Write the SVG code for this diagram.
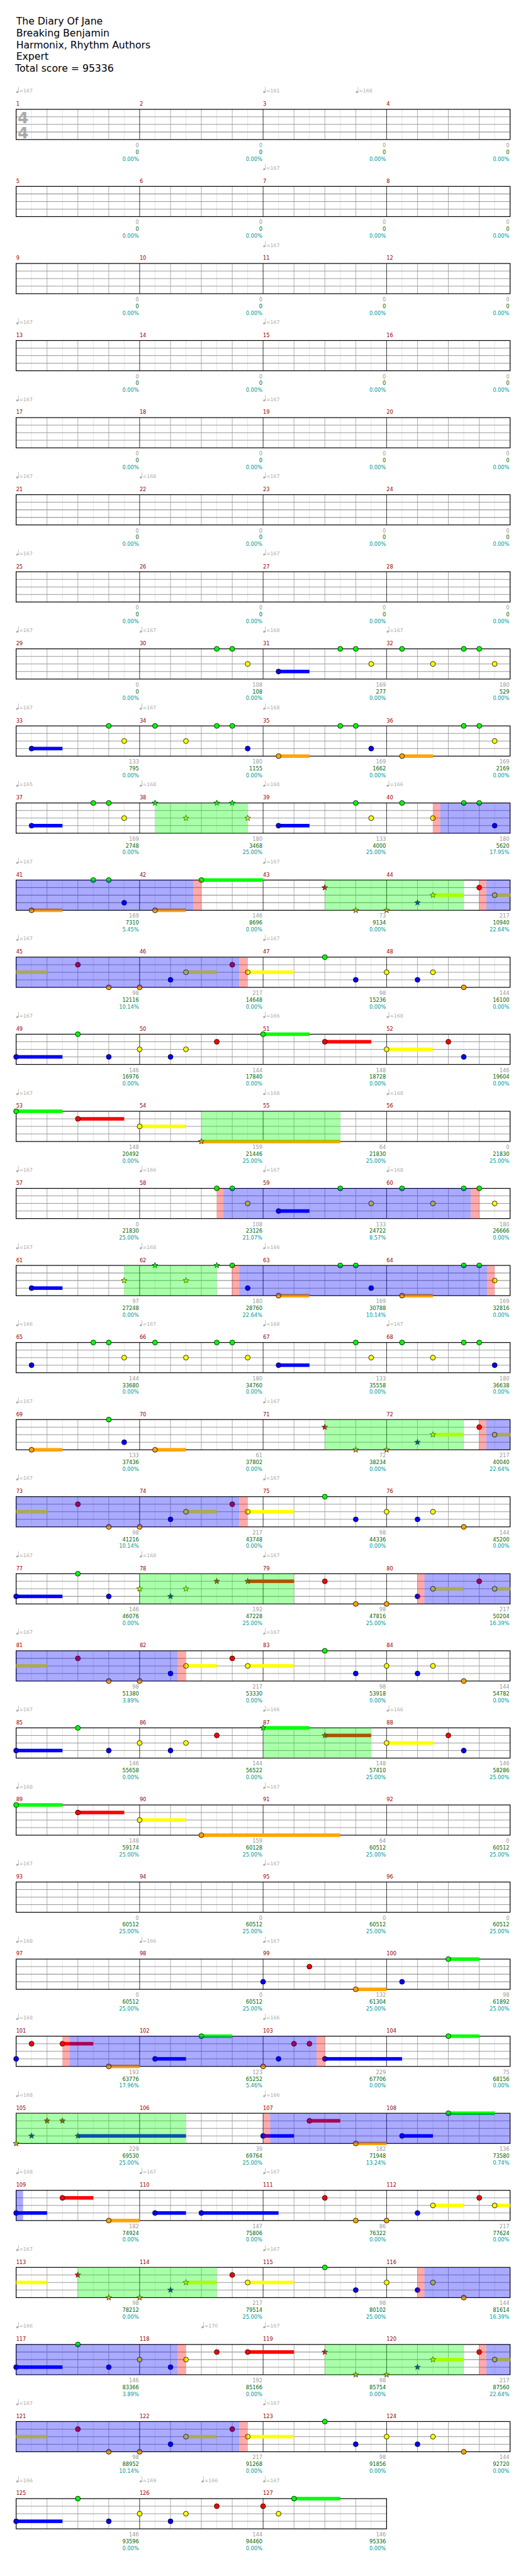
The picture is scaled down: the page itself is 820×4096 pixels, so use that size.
<svg xmlns="http://www.w3.org/2000/svg" width="820" height="4096" viewBox="0 0 820 4096">
<style>
text{font-family:"DejaVu Sans","Liberation Sans",sans-serif}
.h{font-size:19.6px;fill:#000}
.mn{font-size:10.3px;fill:#900}
.tp{font-size:9.8px;fill:#aaa}
.s1{font-size:10.3px;fill:#999;text-anchor:end}
.s2{font-size:10.3px;fill:#060;text-anchor:end}
.s3{font-size:10.3px;fill:#099;text-anchor:end}
.ts{font-size:31px;font-weight:bold;fill:#aaa}
.G{fill:#0f0}.R{fill:#f00}.Y{fill:#ff0}.B{fill:#00f}.O{fill:#ffa500}
.vg{fill:#0f0;fill-opacity:.333}.vb{fill:#00f;fill-opacity:.333}.vr{fill:#f00;fill-opacity:.333}
</style>
<defs>
<g id="g4">
<rect x="32" width="980" height="60" fill="#fff"/>
<path d="M62.6,0V60M123.9,0V60M185.1,0V60M246.4,0V60M307.6,0V60M368.9,0V60M430.1,0V60M491.4,0V60M552.6,0V60M613.9,0V60M675.1,0V60M736.4,0V60M797.6,0V60M858.9,0V60M920.1,0V60M981.4,0V60" stroke="#ddd"/>
<path d="M93.3,0V60M154.5,0V60M215.8,0V60M338.3,0V60M399.5,0V60M460.8,0V60M583.3,0V60M644.5,0V60M705.8,0V60M828.3,0V60M889.5,0V60M950.8,0V60" stroke="#999"/>
<path d="M32,15H1012M32,30H1012M32,45H1012" stroke="#999" stroke-width="1.3"/>
<path d="M277,0V60M522,0V60M767,0V60" stroke="#000"/>
<rect x="32" width="980" height="60" fill="none" stroke="#000" stroke-width="1.5"/>
</g>
<g id="g3">
<rect x="32" width="735" height="60" fill="#fff"/>
<path d="M62.6,0V60M123.9,0V60M185.1,0V60M246.4,0V60M307.6,0V60M368.9,0V60M430.1,0V60M491.4,0V60M552.6,0V60M613.9,0V60M675.1,0V60M736.4,0V60" stroke="#ddd"/>
<path d="M93.3,0V60M154.5,0V60M215.8,0V60M338.3,0V60M399.5,0V60M460.8,0V60M583.3,0V60M644.5,0V60M705.8,0V60" stroke="#999"/>
<path d="M32,15H767M32,30H767M32,45H767" stroke="#999" stroke-width="1.3"/>
<path d="M277,0V60M522,0V60" stroke="#000"/>
<rect x="32" width="735" height="60" fill="none" stroke="#000" stroke-width="1.5"/>
</g>
<circle id="c" r="4.9" stroke="#000"/>
<path id="s" d="M0,-6L1.41,-1.94L5.71,-1.85L2.28,0.74L3.53,4.85L0,2.4L-3.53,4.85L-2.28,0.74L-5.71,-1.85L-1.41,-1.94Z" stroke="#000" stroke-width=".8"/>
<g id="q" fill="#aaa"><ellipse cx="2.4" cy="-1.2" rx="2.5" ry="1.8" transform="rotate(-20 2.4 -1.2)"/><rect x="4.1" y="-11.5" width="0.9" height="10.4"/></g>
<g id="z4">
<text class="s1" y="75"><tspan x="275.5">0</tspan><tspan x="520.5">0</tspan><tspan x="765.5">0</tspan><tspan x="1010.5">0</tspan></text>
<text class="s2" y="88.5"><tspan x="275.5">0</tspan><tspan x="520.5">0</tspan><tspan x="765.5">0</tspan><tspan x="1010.5">0</tspan></text>
<text class="s3" y="102"><tspan x="275.5">0.00%</tspan><tspan x="520.5">0.00%</tspan><tspan x="765.5">0.00%</tspan><tspan x="1010.5">0.00%</tspan></text>
</g>
<g id="pA">
<rect class="Y" x="32" y="26.5" width="61.3" height="7"/><rect class="Y" x="368.9" y="26.5" width="61.2" height="7"/><rect class="Y" x="491.4" y="26.5" width="91.9" height="7"/>
<use href="#c" x="154.5" y="15" class="R"/><use href="#c" x="215.8" y="60" class="O"/><use href="#c" x="277" y="60" class="O"/><use href="#c" x="338.3" y="45" class="B"/><use href="#c" x="368.9" y="30" class="Y"/><use href="#c" x="460.8" y="15" class="R"/><use href="#c" x="491.4" y="30" class="Y"/><use href="#c" x="644.5" class="G"/><use href="#c" x="705.8" y="45" class="B"/><use href="#c" x="767" y="30" class="Y"/><use href="#c" x="828.3" y="45" class="B"/><use href="#c" x="858.9" y="30" class="Y"/><use href="#c" x="920.1" y="60" class="O"/>
</g>
<g id="pB">
<rect class="B" x="32" y="41.5" width="91.9" height="7"/>
<use href="#c" x="32" y="45" class="B"/><use href="#c" x="154.5" class="G"/><use href="#c" x="215.8" y="45" class="B"/><use href="#c" x="277" y="30" class="Y"/><use href="#c" x="338.3" y="45" class="B"/><use href="#c" x="368.9" y="30" class="Y"/><use href="#c" x="430.1" y="15" class="R"/>
</g>
</defs>
<rect width="820" height="4096" fill="#fff"/>
<g transform="scale(0.801)">
<g id="header">
<text class="h" x="32" y="49">The Diary Of Jane</text>
<text class="h" x="32" y="72.3">Breaking Benjamin</text>
<text class="h" x="32" y="95.6">Harmonix, Rhythm Authors</text>
<text class="h" x="32" y="118.9">Expert</text>
<text class="h" x="30" y="142.2">Total score = 95336</text>
</g>

<g id="row1" transform="translate(0,217)">
<use href="#g4"/>
<text class="ts" x="35" y="28">4</text><text class="ts" x="35" y="58">4</text>
<text class="mn" y="-7"><tspan x="32">1</tspan><tspan x="277">2</tspan><tspan x="522">3</tspan><tspan x="767">4</tspan></text>
<use href="#q" x="32" y="-33"/><use href="#q" x="522" y="-33"/><use href="#q" x="705.8" y="-33"/>
<text class="tp" y="-33"><tspan x="38">=167</tspan><tspan x="528">=161</tspan><tspan x="711.8">=168</tspan></text>
<use href="#z4"/>
</g>
<g id="row2" transform="translate(0,370)">
<use href="#g4"/>
<text class="mn" y="-7"><tspan x="32">5</tspan><tspan x="277">6</tspan><tspan x="522">7</tspan><tspan x="767">8</tspan></text>
<use href="#q" x="522" y="-33"/>
<text class="tp" y="-33"><tspan x="528">=167</tspan></text>
<use href="#z4"/>
</g>
<g id="row3" transform="translate(0,523)">
<use href="#g4"/>
<text class="mn" y="-7"><tspan x="32">9</tspan><tspan x="277">10</tspan><tspan x="522">11</tspan><tspan x="767">12</tspan></text>
<use href="#q" x="522" y="-33"/>
<text class="tp" y="-33"><tspan x="528">=167</tspan></text>
<use href="#z4"/>
</g>
<g id="row4" transform="translate(0,676)">
<use href="#g4"/>
<text class="mn" y="-7"><tspan x="32">13</tspan><tspan x="277">14</tspan><tspan x="522">15</tspan><tspan x="767">16</tspan></text>
<use href="#q" x="32" y="-33"/><use href="#q" x="522" y="-33"/>
<text class="tp" y="-33"><tspan x="38">=167</tspan><tspan x="528">=167</tspan></text>
<use href="#z4"/>
</g>
<g id="row5" transform="translate(0,829)">
<use href="#g4"/>
<text class="mn" y="-7"><tspan x="32">17</tspan><tspan x="277">18</tspan><tspan x="522">19</tspan><tspan x="767">20</tspan></text>
<use href="#q" x="32" y="-33"/><use href="#q" x="522" y="-33"/>
<text class="tp" y="-33"><tspan x="38">=167</tspan><tspan x="528">=167</tspan></text>
<use href="#z4"/>
</g>
<g id="row6" transform="translate(0,982)">
<use href="#g4"/>
<text class="mn" y="-7"><tspan x="32">21</tspan><tspan x="277">22</tspan><tspan x="522">23</tspan><tspan x="767">24</tspan></text>
<use href="#q" x="32" y="-33"/><use href="#q" x="277" y="-33"/><use href="#q" x="522" y="-33"/>
<text class="tp" y="-33"><tspan x="38">=167</tspan><tspan x="283">=168</tspan><tspan x="528">=167</tspan></text>
<use href="#z4"/>
</g>
<g id="row7" transform="translate(0,1135)">
<use href="#g4"/>
<text class="mn" y="-7"><tspan x="32">25</tspan><tspan x="277">26</tspan><tspan x="522">27</tspan><tspan x="767">28</tspan></text>
<use href="#q" x="32" y="-33"/><use href="#q" x="522" y="-33"/>
<text class="tp" y="-33"><tspan x="38">=167</tspan><tspan x="528">=167</tspan></text>
<use href="#z4"/>
</g>

<g id="row8" transform="translate(0,1288)">
<use href="#g4"/>
<text class="mn" y="-7"><tspan x="32">29</tspan><tspan x="277">30</tspan><tspan x="522">31</tspan><tspan x="767">32</tspan></text>
<use href="#q" x="32" y="-33"/><use href="#q" x="277" y="-33"/><use href="#q" x="522" y="-33"/><use href="#q" x="767" y="-33"/>
<text class="tp" y="-33"><tspan x="38">=167</tspan><tspan x="283">=167</tspan><tspan x="528">=168</tspan><tspan x="773">=167</tspan></text>
<rect class="B" x="552.6" y="41.5" width="61.3" height="7"/>
<use href="#c" x="430.1" class="G"/><use href="#c" x="460.8" class="G"/><use href="#c" x="491.4" y="30" class="Y"/><use href="#c" x="552.6" y="45" class="B"/><use href="#c" x="675.1" class="G"/><use href="#c" x="705.8" class="G"/><use href="#c" x="736.4" y="30" class="Y"/><use href="#c" x="797.6" class="G"/><use href="#c" x="858.9" y="30" class="Y"/><use href="#c" x="920.1" class="G"/><use href="#c" x="950.8" class="G"/><use href="#c" x="981.4" y="30" class="Y"/>
<text class="s1" y="75"><tspan x="275.5">0</tspan><tspan x="520.5">108</tspan><tspan x="765.5">169</tspan><tspan x="1010.5">180</tspan></text>
<text class="s2" y="88.5"><tspan x="275.5">0</tspan><tspan x="520.5">108</tspan><tspan x="765.5">277</tspan><tspan x="1010.5">529</tspan></text>
<text class="s3" y="102"><tspan x="275.5">0.00%</tspan><tspan x="520.5">0.00%</tspan><tspan x="765.5">0.00%</tspan><tspan x="1010.5">0.00%</tspan></text>
</g>

<g id="row9" transform="translate(0,1441)">
<use href="#g4"/>
<text class="mn" y="-7"><tspan x="32">33</tspan><tspan x="277">34</tspan><tspan x="522">35</tspan><tspan x="767">36</tspan></text>
<use href="#q" x="32" y="-33"/><use href="#q" x="277" y="-33"/><use href="#q" x="522" y="-33"/>
<text class="tp" y="-33"><tspan x="38">=167</tspan><tspan x="283">=167</tspan><tspan x="528">=168</tspan></text>
<rect class="B" x="62.6" y="41.5" width="61.3" height="7"/><rect class="O" x="552.6" y="56.5" width="61.3" height="7"/><rect class="O" x="797.6" y="56.5" width="61.3" height="7"/>
<use href="#c" x="62.6" y="45" class="B"/><use href="#c" x="215.8" class="G"/><use href="#c" x="246.4" y="30" class="Y"/><use href="#c" x="307.6" class="G"/><use href="#c" x="368.9" y="30" class="Y"/><use href="#c" x="430.1" class="G"/><use href="#c" x="460.8" class="G"/><use href="#c" x="491.4" y="45" class="B"/><use href="#c" x="552.6" y="60" class="O"/><use href="#c" x="675.1" class="G"/><use href="#c" x="705.8" class="G"/><use href="#c" x="736.4" y="45" class="B"/><use href="#c" x="797.6" y="60" class="O"/><use href="#c" x="920.1" class="G"/><use href="#c" x="950.8" class="G"/><use href="#c" x="981.4" y="30" class="Y"/>
<text class="s1" y="75"><tspan x="275.5">133</tspan><tspan x="520.5">180</tspan><tspan x="765.5">169</tspan><tspan x="1010.5">169</tspan></text>
<text class="s2" y="88.5"><tspan x="275.5">795</tspan><tspan x="520.5">1155</tspan><tspan x="765.5">1662</tspan><tspan x="1010.5">2169</tspan></text>
<text class="s3" y="102"><tspan x="275.5">0.00%</tspan><tspan x="520.5">0.00%</tspan><tspan x="765.5">0.00%</tspan><tspan x="1010.5">0.00%</tspan></text>
</g>

<g id="row10" transform="translate(0,1594)">
<use href="#g4"/>
<text class="mn" y="-7"><tspan x="32">37</tspan><tspan x="277">38</tspan><tspan x="522">39</tspan><tspan x="767">40</tspan></text>
<use href="#q" x="32" y="-33"/><use href="#q" x="277" y="-33"/><use href="#q" x="522" y="-33"/><use href="#q" x="767" y="-33"/>
<text class="tp" y="-33"><tspan x="38">=165</tspan><tspan x="283">=168</tspan><tspan x="528">=168</tspan><tspan x="773">=166</tspan></text>
<rect class="B" x="62.6" y="41.5" width="61.3" height="7"/><rect class="B" x="552.6" y="41.5" width="61.3" height="7"/>
<use href="#c" x="62.6" y="45" class="B"/><use href="#c" x="185.1" class="G"/><use href="#c" x="215.8" class="G"/><use href="#c" x="246.4" y="30" class="Y"/>
<use href="#s" x="307.6" class="G"/><use href="#s" x="368.9" y="30" class="Y"/><use href="#s" x="430.1" class="G"/><use href="#s" x="460.8" class="G"/><use href="#s" x="491.4" y="30" class="Y"/>
<use href="#c" x="552.6" y="45" class="B"/><use href="#c" x="705.8" class="G"/><use href="#c" x="736.4" y="30" class="Y"/><use href="#c" x="797.6" class="G"/><use href="#c" x="858.9" y="30" class="Y"/><use href="#c" x="920.1" class="G"/><use href="#c" x="950.8" class="G"/><use href="#c" x="981.4" y="45" class="B"/>
<rect class="vg" x="307.6" width="183.8" height="60"/><rect class="vr" x="858.9" width="14.4" height="60"/><rect class="vb" x="873.3" width="138.7" height="60"/>
<text class="s1" y="75"><tspan x="275.5">169</tspan><tspan x="520.5">180</tspan><tspan x="765.5">133</tspan><tspan x="1010.5">180</tspan></text>
<text class="s2" y="88.5"><tspan x="275.5">2748</tspan><tspan x="520.5">3468</tspan><tspan x="765.5">4000</tspan><tspan x="1010.5">5620</tspan></text>
<text class="s3" y="102"><tspan x="275.5">0.00%</tspan><tspan x="520.5">25.00%</tspan><tspan x="765.5">25.00%</tspan><tspan x="1010.5">17.95%</tspan></text>
</g>

<g id="row11" transform="translate(0,1747)">
<use href="#g4"/>
<text class="mn" y="-7"><tspan x="32">41</tspan><tspan x="277">42</tspan><tspan x="522">43</tspan><tspan x="767">44</tspan></text>
<use href="#q" x="32" y="-33"/><use href="#q" x="522" y="-33"/>
<text class="tp" y="-33"><tspan x="38">=167</tspan><tspan x="528">=167</tspan></text>
<rect class="O" x="62.6" y="56.5" width="61.3" height="7"/><rect class="O" x="307.6" y="56.5" width="61.3" height="7"/><rect class="G" x="399.5" y="-3.5" width="122.5" height="7"/><rect class="Y" x="858.9" y="26.5" width="61.2" height="7"/><rect class="Y" x="981.4" y="26.5" width="30.6" height="7"/>
<use href="#c" x="62.6" y="60" class="O"/><use href="#c" x="185.1" class="G"/><use href="#c" x="215.8" class="G"/><use href="#c" x="246.4" y="45" class="B"/><use href="#c" x="307.6" y="60" class="O"/><use href="#c" x="399.5" class="G"/>
<use href="#s" x="644.5" y="15" class="R"/><use href="#s" x="705.8" y="60" class="O"/><use href="#s" x="767" y="60" class="O"/><use href="#s" x="828.3" y="45" class="B"/><use href="#s" x="858.9" y="30" class="Y"/>
<use href="#c" x="950.8" y="15" class="R"/><use href="#c" x="981.4" y="30" class="Y"/>
<rect class="vb" x="32" width="351.3" height="60"/><rect class="vr" x="383.3" width="16.2" height="60"/><rect class="vg" x="644.5" width="275.6" height="60"/><rect class="vr" x="950.8" width="13.9" height="60"/><rect class="vb" x="964.7" width="47.3" height="60"/>
<text class="s1" y="75"><tspan x="275.5">169</tspan><tspan x="520.5">146</tspan><tspan x="765.5">73</tspan><tspan x="1010.5">217</tspan></text>
<text class="s2" y="88.5"><tspan x="275.5">7310</tspan><tspan x="520.5">8696</tspan><tspan x="765.5">9134</tspan><tspan x="1010.5">10940</tspan></text>
<text class="s3" y="102"><tspan x="275.5">5.45%</tspan><tspan x="520.5">0.00%</tspan><tspan x="765.5">0.00%</tspan><tspan x="1010.5">22.64%</tspan></text>
</g>

<g id="row12" transform="translate(0,1900)">
<use href="#g4"/>
<text class="mn" y="-7"><tspan x="32">45</tspan><tspan x="277">46</tspan><tspan x="522">47</tspan><tspan x="767">48</tspan></text>
<use href="#q" x="32" y="-33"/><use href="#q" x="522" y="-33"/>
<text class="tp" y="-33"><tspan x="38">=167</tspan><tspan x="528">=167</tspan></text>
<use href="#pA"/>
<rect class="vb" x="32" width="442.7" height="60"/><rect class="vr" x="474.7" width="16.7" height="60"/>
<text class="s1" y="75"><tspan x="275.5">98</tspan><tspan x="520.5">217</tspan><tspan x="765.5">98</tspan><tspan x="1010.5">144</tspan></text>
<text class="s2" y="88.5"><tspan x="275.5">12116</tspan><tspan x="520.5">14648</tspan><tspan x="765.5">15236</tspan><tspan x="1010.5">16100</tspan></text>
<text class="s3" y="102"><tspan x="275.5">10.14%</tspan><tspan x="520.5">0.00%</tspan><tspan x="765.5">0.00%</tspan><tspan x="1010.5">0.00%</tspan></text>
</g>

<g id="row13" transform="translate(0,2053)">
<use href="#g4"/>
<text class="mn" y="-7"><tspan x="32">49</tspan><tspan x="277">50</tspan><tspan x="522">51</tspan><tspan x="767">52</tspan></text>
<use href="#q" x="32" y="-33"/><use href="#q" x="522" y="-33"/><use href="#q" x="767" y="-33"/>
<text class="tp" y="-33"><tspan x="38">=167</tspan><tspan x="528">=166</tspan><tspan x="773">=168</tspan></text>
<use href="#pB"/>
<rect class="G" x="522" y="-3.5" width="91.9" height="7"/><rect class="R" x="644.5" y="11.5" width="91.9" height="7"/><rect class="Y" x="767" y="26.5" width="91.9" height="7"/>
<use href="#c" x="522" class="G"/><use href="#c" x="644.5" y="15" class="R"/><use href="#c" x="767" y="30" class="Y"/><use href="#c" x="889.5" y="15" class="R"/><use href="#c" x="920.1" y="45" class="B"/>
<text class="s1" y="75"><tspan x="275.5">146</tspan><tspan x="520.5">144</tspan><tspan x="765.5">148</tspan><tspan x="1010.5">146</tspan></text>
<text class="s2" y="88.5"><tspan x="275.5">16976</tspan><tspan x="520.5">17840</tspan><tspan x="765.5">18728</tspan><tspan x="1010.5">19604</tspan></text>
<text class="s3" y="102"><tspan x="275.5">0.00%</tspan><tspan x="520.5">0.00%</tspan><tspan x="765.5">0.00%</tspan><tspan x="1010.5">0.00%</tspan></text>
</g>

<g id="row14" transform="translate(0,2206)">
<use href="#g4"/>
<text class="mn" y="-7"><tspan x="32">53</tspan><tspan x="277">54</tspan><tspan x="522">55</tspan><tspan x="767">56</tspan></text>
<use href="#q" x="32" y="-33"/><use href="#q" x="522" y="-33"/><use href="#q" x="767" y="-33"/>
<text class="tp" y="-33"><tspan x="38">=167</tspan><tspan x="528">=168</tspan><tspan x="773">=168</tspan></text>
<rect class="G" x="32" y="-3.5" width="91.9" height="7"/><rect class="R" x="154.5" y="11.5" width="91.9" height="7"/><rect class="Y" x="277" y="26.5" width="91.9" height="7"/><rect class="O" x="399.5" y="56.5" width="275.6" height="7"/>
<use href="#c" x="32" class="G"/><use href="#c" x="154.5" y="15" class="R"/><use href="#c" x="277" y="30" class="Y"/><use href="#s" x="399.5" y="60" class="O"/>
<rect class="vg" x="399.5" width="275.6" height="60"/>
<text class="s1" y="75"><tspan x="275.5">148</tspan><tspan x="520.5">159</tspan><tspan x="765.5">64</tspan><tspan x="1010.5">0</tspan></text>
<text class="s2" y="88.5"><tspan x="275.5">20492</tspan><tspan x="520.5">21446</tspan><tspan x="765.5">21830</tspan><tspan x="1010.5">21830</tspan></text>
<text class="s3" y="102"><tspan x="275.5">0.00%</tspan><tspan x="520.5">25.00%</tspan><tspan x="765.5">25.00%</tspan><tspan x="1010.5">25.00%</tspan></text>
</g>

<g id="row15" transform="translate(0,2359)">
<use href="#g4"/>
<text class="mn" y="-7"><tspan x="32">57</tspan><tspan x="277">58</tspan><tspan x="522">59</tspan><tspan x="767">60</tspan></text>
<use href="#q" x="32" y="-33"/><use href="#q" x="277" y="-33"/><use href="#q" x="522" y="-33"/><use href="#q" x="767" y="-33"/>
<text class="tp" y="-33"><tspan x="38">=167</tspan><tspan x="283">=166</tspan><tspan x="528">=167</tspan><tspan x="773">=168</tspan></text>
<rect class="B" x="552.6" y="41.5" width="61.3" height="7"/>
<use href="#c" x="430.1" class="G"/><use href="#c" x="460.8" class="G"/><use href="#c" x="491.4" y="30" class="Y"/><use href="#c" x="552.6" y="45" class="B"/><use href="#c" x="675.1" class="G"/><use href="#c" x="736.4" y="30" class="Y"/><use href="#c" x="797.6" class="G"/><use href="#c" x="858.9" y="30" class="Y"/><use href="#c" x="920.1" class="G"/><use href="#c" x="950.8" class="G"/><use href="#c" x="981.4" y="30" class="Y"/>
<rect class="vr" x="430.1" width="13.2" height="60"/><rect class="vb" x="443.3" width="490.7" height="60"/><rect class="vr" x="934" width="16.8" height="60"/>
<text class="s1" y="75"><tspan x="275.5">0</tspan><tspan x="520.5">108</tspan><tspan x="765.5">133</tspan><tspan x="1010.5">180</tspan></text>
<text class="s2" y="88.5"><tspan x="275.5">21830</tspan><tspan x="520.5">23126</tspan><tspan x="765.5">24722</tspan><tspan x="1010.5">26666</tspan></text>
<text class="s3" y="102"><tspan x="275.5">25.00%</tspan><tspan x="520.5">21.07%</tspan><tspan x="765.5">8.57%</tspan><tspan x="1010.5">0.00%</tspan></text>
</g>

<g id="row16" transform="translate(0,2512)">
<use href="#g4"/>
<text class="mn" y="-7"><tspan x="32">61</tspan><tspan x="277">62</tspan><tspan x="522">63</tspan><tspan x="767">64</tspan></text>
<use href="#q" x="32" y="-33"/><use href="#q" x="277" y="-33"/><use href="#q" x="522" y="-33"/>
<text class="tp" y="-33"><tspan x="38">=167</tspan><tspan x="283">=168</tspan><tspan x="528">=166</tspan></text>
<rect class="B" x="62.6" y="41.5" width="61.3" height="7"/><rect class="O" x="552.6" y="56.5" width="61.3" height="7"/><rect class="O" x="797.6" y="56.5" width="61.3" height="7"/>
<use href="#c" x="62.6" y="45" class="B"/>
<use href="#s" x="246.4" y="30" class="Y"/><use href="#s" x="307.6" class="G"/><use href="#s" x="368.9" y="30" class="Y"/><use href="#s" x="430.1" class="G"/>
<use href="#c" x="460.8" class="G"/><use href="#c" x="491.4" y="45" class="B"/><use href="#c" x="552.6" y="60" class="O"/><use href="#c" x="675.1" class="G"/><use href="#c" x="705.8" class="G"/><use href="#c" x="736.4" y="45" class="B"/><use href="#c" x="797.6" y="60" class="O"/><use href="#c" x="920.1" class="G"/><use href="#c" x="950.8" class="G"/><use href="#c" x="981.4" y="30" class="Y"/>
<rect class="vg" x="246.4" width="183.7" height="60"/><rect class="vr" x="460" width="14.7" height="60"/><rect class="vb" x="474.7" width="492" height="60"/><rect class="vr" x="966.7" width="14.7" height="60"/>
<text class="s1" y="75"><tspan x="275.5">97</tspan><tspan x="520.5">180</tspan><tspan x="765.5">169</tspan><tspan x="1010.5">169</tspan></text>
<text class="s2" y="88.5"><tspan x="275.5">27248</tspan><tspan x="520.5">28760</tspan><tspan x="765.5">30788</tspan><tspan x="1010.5">32816</tspan></text>
<text class="s3" y="102"><tspan x="275.5">0.00%</tspan><tspan x="520.5">22.64%</tspan><tspan x="765.5">10.14%</tspan><tspan x="1010.5">0.00%</tspan></text>
</g>

<g id="row17" transform="translate(0,2665)">
<use href="#g4"/>
<text class="mn" y="-7"><tspan x="32">65</tspan><tspan x="277">66</tspan><tspan x="522">67</tspan><tspan x="767">68</tspan></text>
<use href="#q" x="32" y="-33"/><use href="#q" x="277" y="-33"/><use href="#q" x="522" y="-33"/><use href="#q" x="767" y="-33"/>
<text class="tp" y="-33"><tspan x="38">=166</tspan><tspan x="283">=167</tspan><tspan x="528">=168</tspan><tspan x="773">=167</tspan></text>
<rect class="B" x="552.6" y="41.5" width="61.3" height="7"/>
<use href="#c" x="62.6" y="45" class="B"/><use href="#c" x="185.1" class="G"/><use href="#c" x="215.8" class="G"/><use href="#c" x="246.4" y="30" class="Y"/><use href="#c" x="307.6" class="G"/><use href="#c" x="368.9" y="30" class="Y"/><use href="#c" x="430.1" class="G"/><use href="#c" x="460.8" class="G"/><use href="#c" x="491.4" y="30" class="Y"/><use href="#c" x="552.6" y="45" class="B"/><use href="#c" x="705.8" class="G"/><use href="#c" x="736.4" y="30" class="Y"/><use href="#c" x="797.6" class="G"/><use href="#c" x="858.9" y="30" class="Y"/><use href="#c" x="920.1" class="G"/><use href="#c" x="950.8" class="G"/><use href="#c" x="981.4" y="45" class="B"/>
<text class="s1" y="75"><tspan x="275.5">144</tspan><tspan x="520.5">180</tspan><tspan x="765.5">133</tspan><tspan x="1010.5">180</tspan></text>
<text class="s2" y="88.5"><tspan x="275.5">33680</tspan><tspan x="520.5">34760</tspan><tspan x="765.5">35558</tspan><tspan x="1010.5">36638</tspan></text>
<text class="s3" y="102"><tspan x="275.5">0.00%</tspan><tspan x="520.5">0.00%</tspan><tspan x="765.5">0.00%</tspan><tspan x="1010.5">0.00%</tspan></text>
</g>

<g id="row18" transform="translate(0,2818)">
<use href="#g4"/>
<text class="mn" y="-7"><tspan x="32">69</tspan><tspan x="277">70</tspan><tspan x="522">71</tspan><tspan x="767">72</tspan></text>
<use href="#q" x="32" y="-33"/><use href="#q" x="522" y="-33"/>
<text class="tp" y="-33"><tspan x="38">=167</tspan><tspan x="528">=167</tspan></text>
<rect class="O" x="62.6" y="56.5" width="61.3" height="7"/><rect class="O" x="307.6" y="56.5" width="61.3" height="7"/><rect class="Y" x="858.9" y="26.5" width="61.2" height="7"/><rect class="Y" x="981.4" y="26.5" width="30.6" height="7"/>
<use href="#c" x="62.6" y="60" class="O"/><use href="#c" x="215.8" class="G"/><use href="#c" x="246.4" y="45" class="B"/><use href="#c" x="307.6" y="60" class="O"/>
<use href="#s" x="644.5" y="15" class="R"/><use href="#s" x="705.8" y="60" class="O"/><use href="#s" x="767" y="60" class="O"/><use href="#s" x="828.3" y="45" class="B"/><use href="#s" x="858.9" y="30" class="Y"/>
<use href="#c" x="950.8" y="15" class="R"/><use href="#c" x="981.4" y="30" class="Y"/>
<rect class="vg" x="644.5" width="275.6" height="60"/><rect class="vr" x="950.8" width="13.9" height="60"/><rect class="vb" x="964.7" width="47.3" height="60"/>
<text class="s1" y="75"><tspan x="275.5">133</tspan><tspan x="520.5">61</tspan><tspan x="765.5">72</tspan><tspan x="1010.5">217</tspan></text>
<text class="s2" y="88.5"><tspan x="275.5">37436</tspan><tspan x="520.5">37802</tspan><tspan x="765.5">38234</tspan><tspan x="1010.5">40040</tspan></text>
<text class="s3" y="102"><tspan x="275.5">0.00%</tspan><tspan x="520.5">0.00%</tspan><tspan x="765.5">0.00%</tspan><tspan x="1010.5">22.64%</tspan></text>
</g>

<g id="row19" transform="translate(0,2971)">
<use href="#g4"/>
<text class="mn" y="-7"><tspan x="32">73</tspan><tspan x="277">74</tspan><tspan x="522">75</tspan><tspan x="767">76</tspan></text>
<use href="#q" x="32" y="-33"/><use href="#q" x="522" y="-33"/>
<text class="tp" y="-33"><tspan x="38">=167</tspan><tspan x="528">=167</tspan></text>
<use href="#pA"/>
<rect class="vb" x="32" width="442.7" height="60"/><rect class="vr" x="474.7" width="16.7" height="60"/>
<text class="s1" y="75"><tspan x="275.5">98</tspan><tspan x="520.5">217</tspan><tspan x="765.5">98</tspan><tspan x="1010.5">144</tspan></text>
<text class="s2" y="88.5"><tspan x="275.5">41216</tspan><tspan x="520.5">43748</tspan><tspan x="765.5">44336</tspan><tspan x="1010.5">45200</tspan></text>
<text class="s3" y="102"><tspan x="275.5">10.14%</tspan><tspan x="520.5">0.00%</tspan><tspan x="765.5">0.00%</tspan><tspan x="1010.5">0.00%</tspan></text>
</g>

<g id="row20" transform="translate(0,3124)">
<use href="#g4"/>
<text class="mn" y="-7"><tspan x="32">77</tspan><tspan x="277">78</tspan><tspan x="522">79</tspan><tspan x="767">80</tspan></text>
<use href="#q" x="32" y="-33"/><use href="#q" x="277" y="-33"/><use href="#q" x="522" y="-33"/>
<text class="tp" y="-33"><tspan x="38">=167</tspan><tspan x="283">=168</tspan><tspan x="528">=167</tspan></text>
<rect class="B" x="32" y="41.5" width="91.9" height="7"/><rect class="R" x="491.4" y="11.5" width="91.9" height="7"/><rect class="Y" x="858.9" y="26.5" width="61.2" height="7"/><rect class="Y" x="981.4" y="26.5" width="30.6" height="7"/>
<use href="#c" x="32" y="45" class="B"/><use href="#c" x="154.5" class="G"/><use href="#c" x="215.8" y="45" class="B"/>
<use href="#s" x="277" y="30" class="Y"/><use href="#s" x="338.3" y="45" class="B"/><use href="#s" x="368.9" y="30" class="Y"/><use href="#s" x="430.1" y="15" class="R"/><use href="#s" x="491.4" y="15" class="R"/>
<use href="#c" x="644.5" y="15" class="R"/><use href="#c" x="705.8" y="60" class="O"/><use href="#c" x="767" y="60" class="O"/><use href="#c" x="828.3" y="45" class="B"/><use href="#c" x="858.9" y="30" class="Y"/><use href="#c" x="950.8" y="15" class="R"/><use href="#c" x="981.4" y="30" class="Y"/>
<rect class="vg" x="277" width="306.3" height="60"/><rect class="vr" x="828.3" width="13.7" height="60"/><rect class="vb" x="842" width="170" height="60"/>
<text class="s1" y="75"><tspan x="275.5">146</tspan><tspan x="520.5">192</tspan><tspan x="765.5">98</tspan><tspan x="1010.5">217</tspan></text>
<text class="s2" y="88.5"><tspan x="275.5">46076</tspan><tspan x="520.5">47228</tspan><tspan x="765.5">47816</tspan><tspan x="1010.5">50204</tspan></text>
<text class="s3" y="102"><tspan x="275.5">0.00%</tspan><tspan x="520.5">25.00%</tspan><tspan x="765.5">25.00%</tspan><tspan x="1010.5">16.39%</tspan></text>
</g>

<g id="row21" transform="translate(0,3277)">
<use href="#g4"/>
<text class="mn" y="-7"><tspan x="32">81</tspan><tspan x="277">82</tspan><tspan x="522">83</tspan><tspan x="767">84</tspan></text>
<use href="#q" x="32" y="-33"/><use href="#q" x="522" y="-33"/>
<text class="tp" y="-33"><tspan x="38">=167</tspan><tspan x="528">=167</tspan></text>
<use href="#pA"/>
<rect class="vb" x="32" width="320" height="60"/><rect class="vr" x="352" width="16.9" height="60"/>
<text class="s1" y="75"><tspan x="275.5">98</tspan><tspan x="520.5">217</tspan><tspan x="765.5">98</tspan><tspan x="1010.5">144</tspan></text>
<text class="s2" y="88.5"><tspan x="275.5">51380</tspan><tspan x="520.5">53330</tspan><tspan x="765.5">53918</tspan><tspan x="1010.5">54782</tspan></text>
<text class="s3" y="102"><tspan x="275.5">3.89%</tspan><tspan x="520.5">0.00%</tspan><tspan x="765.5">0.00%</tspan><tspan x="1010.5">0.00%</tspan></text>
</g>

<g id="row22" transform="translate(0,3430)">
<use href="#g4"/>
<text class="mn" y="-7"><tspan x="32">85</tspan><tspan x="277">86</tspan><tspan x="522">87</tspan><tspan x="767">88</tspan></text>
<use href="#q" x="32" y="-33"/><use href="#q" x="522" y="-33"/><use href="#q" x="767" y="-33"/>
<text class="tp" y="-33"><tspan x="38">=167</tspan><tspan x="528">=166</tspan><tspan x="773">=166</tspan></text>
<use href="#pB"/>
<rect class="G" x="522" y="-3.5" width="91.9" height="7"/><rect class="R" x="644.5" y="11.5" width="91.9" height="7"/><rect class="Y" x="767" y="26.5" width="91.9" height="7"/>
<use href="#s" x="522" class="G"/><use href="#s" x="644.5" y="15" class="R"/><use href="#c" x="767" y="30" class="Y"/><use href="#c" x="889.5" y="15" class="R"/><use href="#c" x="920.1" y="45" class="B"/>
<rect class="vg" x="522" width="214.4" height="60"/>
<text class="s1" y="75"><tspan x="275.5">146</tspan><tspan x="520.5">144</tspan><tspan x="765.5">148</tspan><tspan x="1010.5">146</tspan></text>
<text class="s2" y="88.5"><tspan x="275.5">55658</tspan><tspan x="520.5">56522</tspan><tspan x="765.5">57410</tspan><tspan x="1010.5">58286</tspan></text>
<text class="s3" y="102"><tspan x="275.5">0.00%</tspan><tspan x="520.5">0.00%</tspan><tspan x="765.5">25.00%</tspan><tspan x="1010.5">25.00%</tspan></text>
</g>

<g id="row23" transform="translate(0,3583)">
<use href="#g4"/>
<text class="mn" y="-7"><tspan x="32">89</tspan><tspan x="277">90</tspan><tspan x="522">91</tspan><tspan x="767">92</tspan></text>
<use href="#q" x="32" y="-33"/><use href="#q" x="522" y="-33"/>
<text class="tp" y="-33"><tspan x="38">=168</tspan><tspan x="528">=167</tspan></text>
<rect class="G" x="32" y="-3.5" width="91.9" height="7"/><rect class="R" x="154.5" y="11.5" width="91.9" height="7"/><rect class="Y" x="277" y="26.5" width="91.9" height="7"/><rect class="O" x="399.5" y="56.5" width="275.6" height="7"/>
<use href="#c" x="32" class="G"/><use href="#c" x="154.5" y="15" class="R"/><use href="#c" x="277" y="30" class="Y"/><use href="#c" x="399.5" y="60" class="O"/>
<text class="s1" y="75"><tspan x="275.5">148</tspan><tspan x="520.5">159</tspan><tspan x="765.5">64</tspan><tspan x="1010.5">0</tspan></text>
<text class="s2" y="88.5"><tspan x="275.5">59174</tspan><tspan x="520.5">60128</tspan><tspan x="765.5">60512</tspan><tspan x="1010.5">60512</tspan></text>
<text class="s3" y="102"><tspan x="275.5">25.00%</tspan><tspan x="520.5">25.00%</tspan><tspan x="765.5">25.00%</tspan><tspan x="1010.5">25.00%</tspan></text>
</g>

<g id="row24" transform="translate(0,3736)">
<use href="#g4"/>
<text class="mn" y="-7"><tspan x="32">93</tspan><tspan x="277">94</tspan><tspan x="522">95</tspan><tspan x="767">96</tspan></text>
<use href="#q" x="32" y="-33"/><use href="#q" x="522" y="-33"/>
<text class="tp" y="-33"><tspan x="38">=167</tspan><tspan x="528">=167</tspan></text>
<text class="s1" y="75"><tspan x="275.5">0</tspan><tspan x="520.5">0</tspan><tspan x="765.5">0</tspan><tspan x="1010.5">0</tspan></text>
<text class="s2" y="88.5"><tspan x="275.5">60512</tspan><tspan x="520.5">60512</tspan><tspan x="765.5">60512</tspan><tspan x="1010.5">60512</tspan></text>
<text class="s3" y="102"><tspan x="275.5">25.00%</tspan><tspan x="520.5">25.00%</tspan><tspan x="765.5">25.00%</tspan><tspan x="1010.5">25.00%</tspan></text>
</g>

<g id="row25" transform="translate(0,3889)">
<use href="#g4"/>
<text class="mn" y="-7"><tspan x="32">97</tspan><tspan x="277">98</tspan><tspan x="522">99</tspan><tspan x="767">100</tspan></text>
<use href="#q" x="32" y="-33"/><use href="#q" x="277" y="-33"/><use href="#q" x="522" y="-33"/>
<text class="tp" y="-33"><tspan x="38">=168</tspan><tspan x="283">=166</tspan><tspan x="528">=167</tspan></text>
<rect class="O" x="705.8" y="56.5" width="61.2" height="7"/><rect class="G" x="889.5" y="-3.5" width="61.3" height="7"/>
<use href="#c" x="522" y="45" class="B"/><use href="#c" x="613.9" y="15" class="R"/><use href="#c" x="705.8" y="60" class="O"/><use href="#c" x="797.6" y="45" class="B"/><use href="#c" x="889.5" class="G"/>
<text class="s1" y="75"><tspan x="275.5">0</tspan><tspan x="520.5">0</tspan><tspan x="765.5">132</tspan><tspan x="1010.5">98</tspan></text>
<text class="s2" y="88.5"><tspan x="275.5">60512</tspan><tspan x="520.5">60512</tspan><tspan x="765.5">61304</tspan><tspan x="1010.5">61892</tspan></text>
<text class="s3" y="102"><tspan x="275.5">25.00%</tspan><tspan x="520.5">25.00%</tspan><tspan x="765.5">25.00%</tspan><tspan x="1010.5">25.00%</tspan></text>
</g>

<g id="row26" transform="translate(0,4042)">
<use href="#g4"/>
<text class="mn" y="-7"><tspan x="32">101</tspan><tspan x="277">102</tspan><tspan x="522">103</tspan><tspan x="767">104</tspan></text>
<use href="#q" x="32" y="-33"/><use href="#q" x="522" y="-33"/>
<text class="tp" y="-33"><tspan x="38">=168</tspan><tspan x="528">=166</tspan></text>
<rect class="R" x="123.9" y="11.5" width="61.2" height="7"/><rect class="O" x="215.8" y="56.5" width="61.2" height="7"/><rect class="B" x="307.6" y="41.5" width="61.3" height="7"/><rect class="G" x="399.5" y="-3.5" width="61.3" height="7"/><rect class="B" x="644.5" y="41.5" width="153.1" height="7"/><rect class="G" x="889.5" y="-3.5" width="61.3" height="7"/>
<use href="#c" x="32" y="45" class="B"/><use href="#c" x="62.6" y="15" class="R"/><use href="#c" x="123.9" y="15" class="R"/><use href="#c" x="215.8" y="60" class="O"/><use href="#c" x="307.6" y="45" class="B"/><use href="#c" x="399.5" class="G"/><use href="#c" x="522" y="60" class="O"/><use href="#c" x="552.6" y="45" class="B"/><use href="#c" x="583.3" y="15" class="R"/><use href="#c" x="613.9" y="15" class="R"/><use href="#c" x="644.5" y="45" class="B"/><use href="#c" x="889.5" class="G"/>
<rect class="vr" x="124" width="14" height="60"/><rect class="vb" x="138" width="490" height="60"/><rect class="vr" x="628" width="16.5" height="60"/>
<text class="s1" y="75"><tspan x="275.5">193</tspan><tspan x="520.5">123</tspan><tspan x="765.5">229</tspan><tspan x="1010.5">75</tspan></text>
<text class="s2" y="88.5"><tspan x="275.5">63776</tspan><tspan x="520.5">65252</tspan><tspan x="765.5">67706</tspan><tspan x="1010.5">68156</tspan></text>
<text class="s3" y="102"><tspan x="275.5">17.96%</tspan><tspan x="520.5">5.46%</tspan><tspan x="765.5">0.00%</tspan><tspan x="1010.5">0.00%</tspan></text>
</g>

<g id="row27" transform="translate(0,4195)">
<use href="#g4"/>
<text class="mn" y="-7"><tspan x="32">105</tspan><tspan x="277">106</tspan><tspan x="522">107</tspan><tspan x="767">108</tspan></text>
<use href="#q" x="32" y="-33"/><use href="#q" x="522" y="-33"/>
<text class="tp" y="-33"><tspan x="38">=168</tspan><tspan x="528">=166</tspan></text>
<rect class="B" x="154.5" y="41.5" width="214.4" height="7"/><rect class="B" x="522" y="41.5" width="61.3" height="7"/><rect class="R" x="613.9" y="11.5" width="61.2" height="7"/><rect class="O" x="705.8" y="56.5" width="61.2" height="7"/><rect class="B" x="797.6" y="41.5" width="61.3" height="7"/><rect class="G" x="889.5" y="-3.5" width="91.9" height="7"/>
<use href="#s" x="32" y="60" class="O"/><use href="#s" x="62.6" y="45" class="B"/><use href="#s" x="93.3" y="15" class="R"/><use href="#s" x="123.9" y="15" class="R"/><use href="#s" x="154.5" y="45" class="B"/>
<use href="#c" x="522" y="45" class="B"/><use href="#c" x="613.9" y="15" class="R"/><use href="#c" x="705.8" y="60" class="O"/><use href="#c" x="797.6" y="45" class="B"/><use href="#c" x="889.5" class="G"/>
<rect class="vg" x="32" width="336.9" height="60"/><rect class="vr" x="522" width="14" height="60"/><rect class="vb" x="536" width="476" height="60"/>
<text class="s1" y="75"><tspan x="275.5">229</tspan><tspan x="520.5">39</tspan><tspan x="765.5">182</tspan><tspan x="1010.5">136</tspan></text>
<text class="s2" y="88.5"><tspan x="275.5">69530</tspan><tspan x="520.5">69764</tspan><tspan x="765.5">71948</tspan><tspan x="1010.5">73580</tspan></text>
<text class="s3" y="102"><tspan x="275.5">25.00%</tspan><tspan x="520.5">25.00%</tspan><tspan x="765.5">13.24%</tspan><tspan x="1010.5">0.74%</tspan></text>
</g>

<g id="row28" transform="translate(0,4348)">
<use href="#g4"/>
<text class="mn" y="-7"><tspan x="32">109</tspan><tspan x="277">110</tspan><tspan x="522">111</tspan><tspan x="767">112</tspan></text>
<use href="#q" x="32" y="-33"/><use href="#q" x="277" y="-33"/><use href="#q" x="522" y="-33"/>
<text class="tp" y="-33"><tspan x="38">=168</tspan><tspan x="283">=167</tspan><tspan x="528">=167</tspan></text>
<rect class="B" x="32" y="41.5" width="61.3" height="7"/><rect class="R" x="123.9" y="11.5" width="61.2" height="7"/><rect class="O" x="215.8" y="56.5" width="61.2" height="7"/><rect class="B" x="307.6" y="41.5" width="61.3" height="7"/><rect class="B" x="399.5" y="41.5" width="153.1" height="7"/><rect class="Y" x="858.9" y="26.5" width="61.2" height="7"/><rect class="Y" x="981.4" y="26.5" width="30.6" height="7"/>
<use href="#c" x="32" y="45" class="B"/><use href="#c" x="123.9" y="15" class="R"/><use href="#c" x="215.8" y="60" class="O"/><use href="#c" x="307.6" y="45" class="B"/><use href="#c" x="399.5" y="45" class="B"/><use href="#c" x="644.5" y="15" class="R"/><use href="#c" x="705.8" y="60" class="O"/><use href="#c" x="767" y="60" class="O"/><use href="#c" x="828.3" y="45" class="B"/><use href="#c" x="858.9" y="30" class="Y"/><use href="#c" x="950.8" y="15" class="R"/><use href="#c" x="981.4" y="30" class="Y"/>
<rect class="vb" x="32" width="13.8" height="60"/>
<text class="s1" y="75"><tspan x="275.5">182</tspan><tspan x="520.5">147</tspan><tspan x="765.5">86</tspan><tspan x="1010.5">217</tspan></text>
<text class="s2" y="88.5"><tspan x="275.5">74924</tspan><tspan x="520.5">75806</tspan><tspan x="765.5">76322</tspan><tspan x="1010.5">77624</tspan></text>
<text class="s3" y="102"><tspan x="275.5">0.00%</tspan><tspan x="520.5">0.00%</tspan><tspan x="765.5">0.00%</tspan><tspan x="1010.5">0.00%</tspan></text>
</g>

<g id="row29" transform="translate(0,4501)">
<use href="#g4"/>
<text class="mn" y="-7"><tspan x="32">113</tspan><tspan x="277">114</tspan><tspan x="522">115</tspan><tspan x="767">116</tspan></text>
<use href="#q" x="32" y="-33"/><use href="#q" x="522" y="-33"/>
<text class="tp" y="-33"><tspan x="38">=167</tspan><tspan x="528">=167</tspan></text>
<rect class="Y" x="32" y="26.5" width="61.3" height="7"/><rect class="Y" x="368.9" y="26.5" width="61.2" height="7"/><rect class="Y" x="491.4" y="26.5" width="91.9" height="7"/>
<use href="#s" x="154.5" y="15" class="R"/><use href="#s" x="215.8" y="60" class="O"/><use href="#s" x="277" y="60" class="O"/><use href="#s" x="338.3" y="45" class="B"/><use href="#s" x="368.9" y="30" class="Y"/>
<use href="#c" x="460.8" y="15" class="R"/><use href="#c" x="491.4" y="30" class="Y"/><use href="#c" x="644.5" class="G"/><use href="#c" x="705.8" y="45" class="B"/><use href="#c" x="767" y="30" class="Y"/><use href="#c" x="828.3" y="45" class="B"/><use href="#c" x="858.9" y="30" class="Y"/><use href="#c" x="920.1" y="60" class="O"/>
<rect class="vg" x="154.5" width="275.6" height="60"/><rect class="vr" x="828.3" width="13.7" height="60"/><rect class="vb" x="842" width="170" height="60"/>
<text class="s1" y="75"><tspan x="275.5">98</tspan><tspan x="520.5">217</tspan><tspan x="765.5">98</tspan><tspan x="1010.5">144</tspan></text>
<text class="s2" y="88.5"><tspan x="275.5">78212</tspan><tspan x="520.5">79514</tspan><tspan x="765.5">80102</tspan><tspan x="1010.5">81614</tspan></text>
<text class="s3" y="102"><tspan x="275.5">0.00%</tspan><tspan x="520.5">25.00%</tspan><tspan x="765.5">25.00%</tspan><tspan x="1010.5">16.39%</tspan></text>
</g>

<g id="row30" transform="translate(0,4654)">
<use href="#g4"/>
<text class="mn" y="-7"><tspan x="32">117</tspan><tspan x="277">118</tspan><tspan x="522">119</tspan><tspan x="767">120</tspan></text>
<use href="#q" x="32" y="-33"/><use href="#q" x="399.5" y="-33"/><use href="#q" x="522" y="-33"/>
<text class="tp" y="-33"><tspan x="38">=166</tspan><tspan x="405.5">=170</tspan><tspan x="528">=167</tspan></text>
<use href="#pB"/>
<rect class="R" x="491.4" y="11.5" width="91.9" height="7"/><rect class="Y" x="858.9" y="26.5" width="61.2" height="7"/><rect class="Y" x="981.4" y="26.5" width="30.6" height="7"/>
<use href="#c" x="491.4" y="15" class="R"/>
<use href="#s" x="644.5" y="15" class="R"/><use href="#s" x="705.8" y="60" class="O"/><use href="#s" x="767" y="60" class="O"/><use href="#s" x="828.3" y="45" class="B"/><use href="#s" x="858.9" y="30" class="Y"/>
<use href="#c" x="950.8" y="15" class="R"/><use href="#c" x="981.4" y="30" class="Y"/>
<rect class="vb" x="32" width="320" height="60"/><rect class="vr" x="352" width="16.9" height="60"/><rect class="vg" x="644.5" width="275.6" height="60"/><rect class="vr" x="950.8" width="13.9" height="60"/><rect class="vb" x="964.7" width="47.3" height="60"/>
<text class="s1" y="75"><tspan x="275.5">146</tspan><tspan x="520.5">192</tspan><tspan x="765.5">98</tspan><tspan x="1010.5">217</tspan></text>
<text class="s2" y="88.5"><tspan x="275.5">83366</tspan><tspan x="520.5">85166</tspan><tspan x="765.5">85754</tspan><tspan x="1010.5">87560</tspan></text>
<text class="s3" y="102"><tspan x="275.5">3.89%</tspan><tspan x="520.5">0.00%</tspan><tspan x="765.5">0.00%</tspan><tspan x="1010.5">22.64%</tspan></text>
</g>

<g id="row31" transform="translate(0,4807)">
<use href="#g4"/>
<text class="mn" y="-7"><tspan x="32">121</tspan><tspan x="277">122</tspan><tspan x="522">123</tspan><tspan x="767">124</tspan></text>
<use href="#q" x="32" y="-33"/><use href="#q" x="522" y="-33"/>
<text class="tp" y="-33"><tspan x="38">=167</tspan><tspan x="528">=167</tspan></text>
<use href="#pA"/>
<rect class="vb" x="32" width="442.7" height="60"/><rect class="vr" x="474.7" width="16.7" height="60"/>
<text class="s1" y="75"><tspan x="275.5">98</tspan><tspan x="520.5">217</tspan><tspan x="765.5">98</tspan><tspan x="1010.5">144</tspan></text>
<text class="s2" y="88.5"><tspan x="275.5">88952</tspan><tspan x="520.5">91268</tspan><tspan x="765.5">91856</tspan><tspan x="1010.5">92720</tspan></text>
<text class="s3" y="102"><tspan x="275.5">10.14%</tspan><tspan x="520.5">0.00%</tspan><tspan x="765.5">0.00%</tspan><tspan x="1010.5">0.00%</tspan></text>
</g>

<g id="row32" transform="translate(0,4960)">
<use href="#g3"/>
<text class="mn" y="-7"><tspan x="32">125</tspan><tspan x="277">126</tspan><tspan x="522">127</tspan></text>
<use href="#q" x="32" y="-33"/><use href="#q" x="277" y="-33"/><use href="#q" x="399.5" y="-33"/><use href="#q" x="522" y="-33"/>
<text class="tp" y="-33"><tspan x="38">=166</tspan><tspan x="283">=169</tspan><tspan x="405.5">=166</tspan><tspan x="528">=167</tspan></text>
<use href="#pB"/>
<rect class="G" x="583.3" y="-3.5" width="91.8" height="7"/>
<use href="#c" x="522" y="15" class="R"/><use href="#c" x="552.6" y="30" class="Y"/><use href="#c" x="583.3" class="G"/>
<text class="s1" y="75"><tspan x="275.5">146</tspan><tspan x="520.5">144</tspan><tspan x="765.5">146</tspan></text>
<text class="s2" y="88.5"><tspan x="275.5">93596</tspan><tspan x="520.5">94460</tspan><tspan x="765.5">95336</tspan></text>
<text class="s3" y="102"><tspan x="275.5">0.00%</tspan><tspan x="520.5">0.00%</tspan><tspan x="765.5">0.00%</tspan></text>
</g>
</g>
</svg>
